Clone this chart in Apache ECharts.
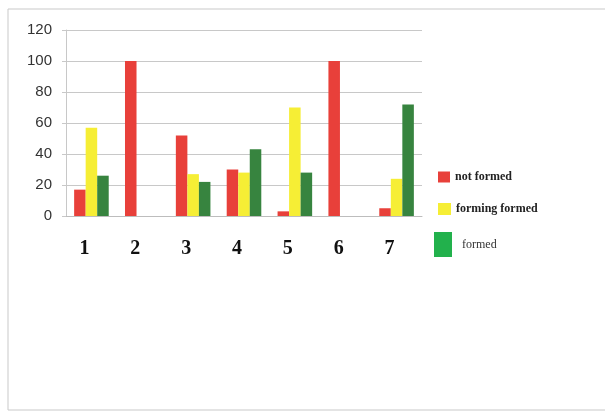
<!DOCTYPE html>
<html>
<head>
<meta charset="utf-8">
<script src="https://cdn.jsdelivr.net/npm/echarts@6/dist/echarts.min.js"></script>
<style>html,body{margin:0;padding:0;background:#fff;}#c{width:605px;height:412px;}</style>
</head>
<body>
<div id="c"></div>
<script>
const categories = ['1', '2', '3', '4', '5', '6', '7'];
const notFormed = [17, 100, 52, 30, 3, 100, 5];
const formingFormed = [57, 0, 27, 28, 70, 0, 24];
const formed = [26, 0, 22, 43, 28, 0, 72];
const seriesNames = ['not formed', 'forming formed', 'formed'];
const yTicks = [0, 20, 40, 60, 80, 100, 120];

const chart = echarts.init(document.getElementById('c'), null, {renderer: 'canvas'});
const legendBase = {
  orient: 'vertical', icon: 'rect', itemGap: 0, padding: 0, selectedMode: false,
  textStyle: {fontFamily: 'Liberation Serif', fontSize: 12, fontWeight: 'bold', color: '#222'}
};
chart.setOption({
  animation: false,
  backgroundColor: '#fff',
  graphic: [{
    type: 'rect', shape: {x: 8, y: 9, width: 620, height: 401},
    style: {fill: 'none', stroke: '#c9c9c9', lineWidth: 1}, silent: true
  }],
  grid: {left: 66, right: 183, top: 30, bottom: 196},
  legend: [
    Object.assign({}, legendBase, {left: 438, top: 171, itemWidth: 12, itemHeight: 11, data: [seriesNames[0]]}),
    Object.assign({}, legendBase, {left: 438, top: 203, itemWidth: 13, itemHeight: 12, data: [seriesNames[1]]}),
    Object.assign({}, legendBase, {left: 434, top: 232, itemWidth: 18, itemHeight: 25,
      data: [{name: seriesNames[2], itemStyle: {color: '#22b14c'}}],
      textStyle: {fontFamily: 'Liberation Serif', fontSize: 12, fontWeight: 'normal', color: '#333', padding: [0, 0, 0, 5]}})
  ],
  xAxis: {
    type: 'category', data: categories,
    axisLine: {show: true, lineStyle: {color: '#bdbdbd'}},
    axisTick: {show: false},
    axisLabel: {margin: 23, fontFamily: 'Liberation Serif', fontSize: 20, fontWeight: 'bold', color: '#111', padding: [0, 14, 0, 0]}
  },
  yAxis: {
    type: 'value', min: yTicks[0], max: yTicks[yTicks.length - 1], interval: 20,
    axisLine: {show: true, lineStyle: {color: '#c8c8c8'}},
    axisTick: {show: true, length: 4, lineStyle: {color: '#c8c8c8'}},
    splitLine: {lineStyle: {color: '#c8c8c8', width: 1}},
    axisLabel: {margin: 14, fontFamily: 'Liberation Sans', fontSize: 15, color: '#333'}
  },
  series: [
    {name: seriesNames[0], type: 'bar', data: notFormed, barGap: '0%', barCategoryGap: '32%', itemStyle: {color: '#e8403a'}},
    {name: seriesNames[1], type: 'bar', data: formingFormed, barGap: '0%', barCategoryGap: '32%', itemStyle: {color: '#f6ee35'}},
    {name: seriesNames[2], type: 'bar', data: formed, barGap: '0%', barCategoryGap: '32%', itemStyle: {color: '#37843f'}}
  ]
});
</script>
</body>
</html>
